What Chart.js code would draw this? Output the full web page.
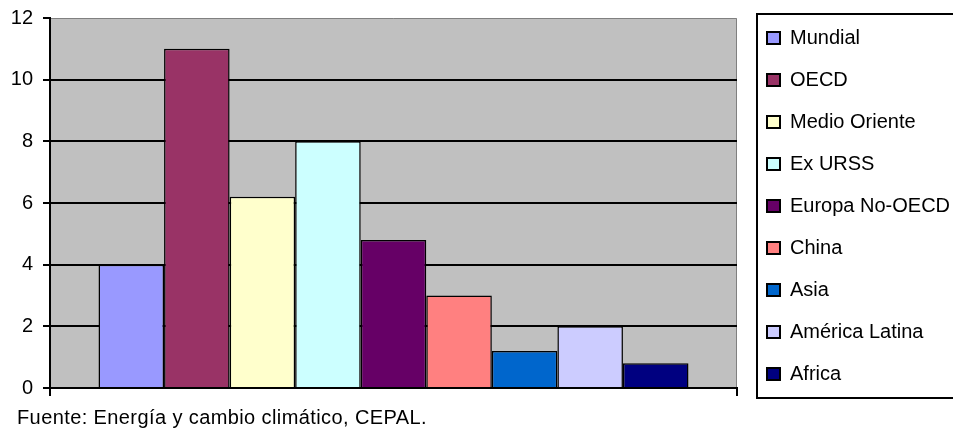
<!DOCTYPE html>
<html>
<head>
<meta charset="utf-8">
<script src="https://cdn.jsdelivr.net/npm/chart.js@4/dist/chart.umd.min.js"></script>
<style>
  html, body { margin: 0; padding: 0; background: #fff; overflow: hidden; }
  #wrap { position: relative; width: 953px; height: 429px; }
  #source {
    position: absolute; left: 17px; top: 407px;
    font: 20px/20px 'Liberation Sans', Arial, sans-serif;
    letter-spacing: 0.4px; color: #000; white-space: nowrap;
  }
</style>
</head>
<body>
<div id="wrap">
  <canvas id="chart" width="953" height="429"></canvas>
  <div id="source">Fuente: Energía y cambio climático, CEPAL.</div>
</div>
<script>
// Regions, their values and bar colours
const regions = ['Mundial', 'OECD', 'Medio Oriente', 'Ex URSS', 'Europa No-OECD', 'China', 'Asia', 'América Latina', 'Africa'];
const values = [4, 11, 6.2, 8, 4.8, 3, 1.2, 2, 0.8];
const colors = ['#9999FF', '#993366', '#FFFFCC', '#CCFFFF', '#660066', '#FF8080', '#0066CC', '#CCCCFF', '#000080'];
const categories = [''];
const yMin = 0, yMax = 12, yStep = 2;

Chart.defaults.font.family = "'Liberation Sans', Arial, sans-serif";
Chart.defaults.font.size = 20;
Chart.defaults.color = '#000';

const datasets = regions.map((name, i) => ({
  label: name,
  data: [values[i]],
  backgroundColor: colors[i],
  borderColor: '#000',
  borderWidth: 1.5,
  barPercentage: 1,
  categoryPercentage: 0.8588
}));

// Grey plot background, its outline, and the frame round the legend
const frames = {
  id: 'frames',
  beforeDraw(chart) {
    const {ctx, chartArea: a} = chart;
    ctx.save();
    ctx.fillStyle = '#C0C0C0';
    ctx.fillRect(a.left, a.top, a.right - a.left, a.bottom - a.top);
    ctx.strokeStyle = '#808080';
    ctx.lineWidth = 1;
    ctx.beginPath();
    ctx.moveTo(a.left, a.top + 0.5);
    ctx.lineTo(a.right - 0.5, a.top + 0.5);
    ctx.lineTo(a.right - 0.5, a.bottom);
    ctx.stroke();
    ctx.restore();
  },
  afterDraw(chart) {
    const {ctx} = chart;
    const lg = chart.legend;
    ctx.save();
    ctx.strokeStyle = '#000';
    ctx.lineWidth = 2;
    ctx.strokeRect(lg.left + 12, lg.top + 9, 230, 384);
    ctx.restore();
  }
};

new Chart(document.getElementById('chart'), {
  type: 'bar',
  data: { labels: categories, datasets },
  plugins: [frames],
  options: {
    responsive: false,
    animation: false,
    layout: { padding: { top: 5, bottom: 22, left: 0, right: 3 } },
    plugins: {
      tooltip: { enabled: false },
      legend: {
        position: 'right',
        align: 'center',
        maxWidth: 205,
        labels: {
          boxWidth: 13,
          boxHeight: 12,
          padding: 22,
          font: { size: 20 },
          color: '#000',
          generateLabels(chart) {
            return Chart.defaults.plugins.legend.labels.generateLabels(chart)
              .map(item => Object.assign(item, { lineWidth: 2 }));
          }
        }
      }
    },
    scales: {
      x: {
        offset: true,
        grid: { display: true, drawOnChartArea: false, offset: true, color: '#000', tickLength: 8, lineWidth: 2 },
        border: { display: true, color: '#000', width: 2 },
        ticks: { display: false },
        afterFit(s) { s.height = 19; }
      },
      y: {
        min: yMin,
        max: yMax,
        ticks: { stepSize: yStep, padding: 10, font: { size: 20, lineHeight: 0.8 }, color: '#000' },
        grid: {
          color: c => (c.tick && c.tick.value === yMax ? 'rgba(0,0,0,0)' : '#000'),
          tickColor: '#000',
          lineWidth: 2,
          tickLength: 7
        },
        border: { display: true, color: '#000', width: 2 },
        afterFit(s) { s.width = 50; }
      },
      gap: {
        type: 'linear',
        position: 'right',
        display: true,
        grid: { display: false },
        border: { display: false },
        ticks: { display: false },
        afterFit(s) { s.width = 8; }
      }
    }
  }
});
</script>
</body>
</html>
